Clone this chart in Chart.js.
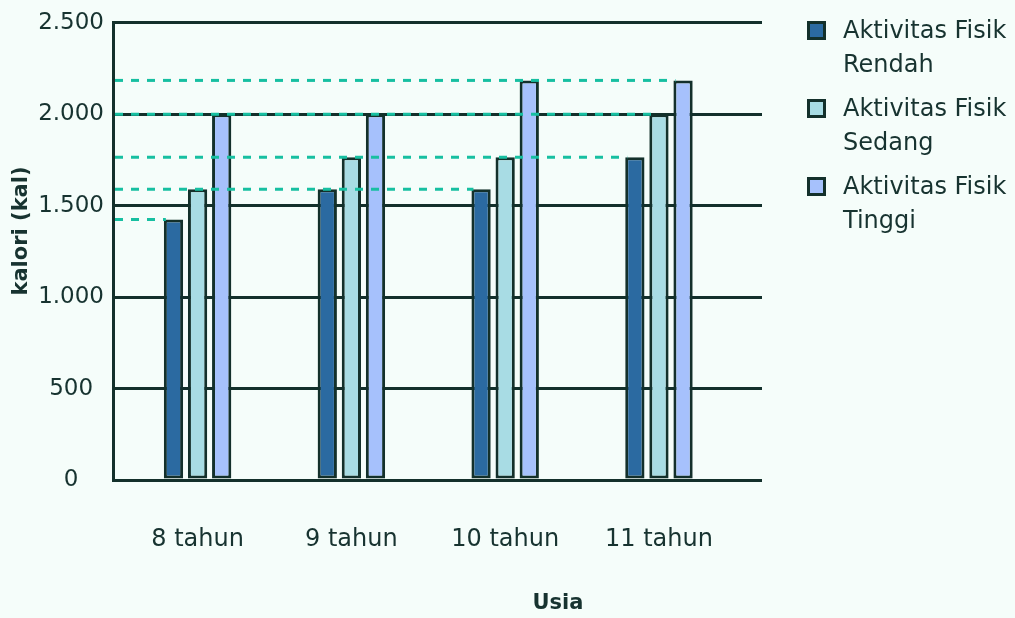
<!DOCTYPE html>
<html lang="id">
<head>
<meta charset="utf-8">
<title>Kebutuhan Kalori Anak</title>
<script src="https://cdn.jsdelivr.net/npm/chart.js@4.4.1/dist/chart.umd.min.js"></script>
<style>
  html, body { margin: 0; padding: 0; background: #f5fdfa; }
  body { width: 1015px; height: 618px; overflow: hidden; position: relative;
         font-family: "DejaVu Sans", sans-serif; color: #173330; }
  #wrap { position: absolute; left: 0; top: 0; width: 1015px; height: 618px; }
  #legend { position: absolute; left: 807px; top: 13px; width: 208px; }
  .lg-item { display: flex; align-items: flex-start; margin-bottom: 10px; }
  .lg-box { width: 13px; height: 13px; border: 3px solid #13302b; margin-top: 8px;
            margin-right: 17px; flex: none; }
  .lg-text { font-size: 24px; line-height: 34px; width: 185px; }
</style>
</head>
<body>
<div id="wrap"><canvas id="chart-kalori"></canvas></div>
<div id="legend"></div>

<script>
// ── DATA ─────────────────────────────────────
const ages    = ['8 tahun', '9 tahun', '10 tahun', '11 tahun'];
const seriesNames = ['Aktivitas Fisik Rendah', 'Aktivitas Fisik Sedang', 'Aktivitas Fisik Tinggi'];
const rendah  = [1425, 1590, 1590, 1765];
const sedang  = [1590, 1765, 1765, 2000];
const tinggi  = [2000, 2000, 2185, 2185];
const yTicks  = [0, 500, 1000, 1500, 2000, 2500];
const yTitle  = 'kalori (kal)';
const xTitle  = 'Usia';

const seriesColors = ['#2b6aa1', '#a8dce4', '#a6c1fc'];
const ink      = '#13302b';
const textCol  = '#173330';
const dashCol  = '#17bfa1';
const family   = '"DejaVu Sans", sans-serif';

// 2500 -> "2.500"
const fmtNum = v => String(v).replace(/\B(?=(\d{3})+(?!\d))/g, '.');

// ── PLUGINS ──────────────────────────────────
// dashed guide from the y axis to the last bar that reaches each level
const guideLines = {
  id: 'guideLines',
  afterDatasetsDraw(chart) {
    const { ctx, chartArea, scales: { y } } = chart;
    const ends = new Map();
    chart.data.datasets.forEach((ds, k) => {
      const meta = chart.getDatasetMeta(k);
      ds.data.forEach((pt, i) => {
        const bar = meta.data[i];
        const left = bar.x - bar.width / 2;
        if (!ends.has(pt.y) || ends.get(pt.y) < left) ends.set(pt.y, left);
      });
    });
    ctx.save();
    ctx.strokeStyle = dashCol;
    ctx.lineWidth = 3;
    ctx.setLineDash([8, 8]);
    ends.forEach((xEnd, v) => {
      const py = y.getPixelForValue(v);
      ctx.beginPath();
      ctx.moveTo(chartArea.left + 2, py);
      ctx.lineTo(xEnd + 2, py);
      ctx.stroke();
    });
    ctx.restore();
  }
};

// axis titles (y sits a bit above the middle, x is pushed right)
const axisTitles = {
  id: 'axisTitles',
  afterDraw(chart) {
    const { ctx } = chart;
    ctx.save();
    ctx.fillStyle = textCol;
    ctx.font = `bold 21px ${family}`;
    ctx.textAlign = 'center';
    ctx.textBaseline = 'middle';
    ctx.fillText(xTitle, 558, 604);
    ctx.translate(22, 231);
    ctx.rotate(-Math.PI / 2);
    ctx.fillText(yTitle, 0, 0);
    ctx.restore();
  }
};

// legend as html so the labels can wrap
const htmlLegend = {
  id: 'htmlLegend',
  afterUpdate(chart) {
    const box = document.getElementById('legend');
    box.innerHTML = '';
    chart.options.plugins.legend.labels.generateLabels(chart).forEach(item => {
      const row = document.createElement('div');
      row.className = 'lg-item';
      const sw = document.createElement('span');
      sw.className = 'lg-box';
      sw.style.background = item.fillStyle;
      const txt = document.createElement('span');
      txt.className = 'lg-text';
      txt.textContent = item.text;
      row.appendChild(sw);
      row.appendChild(txt);
      box.appendChild(row);
    });
  }
};

// ── CHART ────────────────────────────────────
const datasets = [rendah, sedang, tinggi].map((vals, k) => ({
  label: seriesNames[k],
  data: vals.map((v, i) => ({ x: i, y: v })),
  backgroundColor: seriesColors[k],
  borderColor: ink,
  borderWidth: 3,
  borderSkipped: false,
  categoryPercentage: 0.47,
  barPercentage: 0.8
}));

new Chart(document.getElementById('chart-kalori'), {
  type: 'bar',
  data: { datasets },
  plugins: [guideLines, axisTitles, htmlLegend],
  options: {
    responsive: true,
    maintainAspectRatio: false,
    animation: false,
    layout: { padding: { top: 18, right: 253, left: 0, bottom: 0 } },
    plugins: {
      legend: { display: false },
      tooltip: { enabled: false }
    },
    scales: {
      x: {
        type: 'linear',
        offset: false,
        min: -0.55, max: 3.67,
        afterBuildTicks: s => { s.ticks = ages.map((_, i) => ({ value: i })); },
        afterFit: s => { s.height = 138; },
        grid: { display: false, offset: false },
        border: { display: false },
        ticks: {
          color: textCol, font: { family, size: 24 }, padding: 37,
          maxRotation: 0, autoSkip: false,
          callback: v => ages[v]
        }
      },
      y: {
        min: 0, max: 2500,
        afterBuildTicks: s => { s.ticks = yTicks.map(v => ({ value: v })); },
        afterFit: s => { s.width = 113; },
        grid: { color: ink, lineWidth: 3, drawTicks: false },
        border: { color: ink, width: 3 },
        ticks: {
          color: textCol, font: { family, size: 23 }, padding: 9,
          crossAlign: 'center',
          callback: v => fmtNum(v)
        }
      }
    }
  }
});
</script>
</body>
</html>
